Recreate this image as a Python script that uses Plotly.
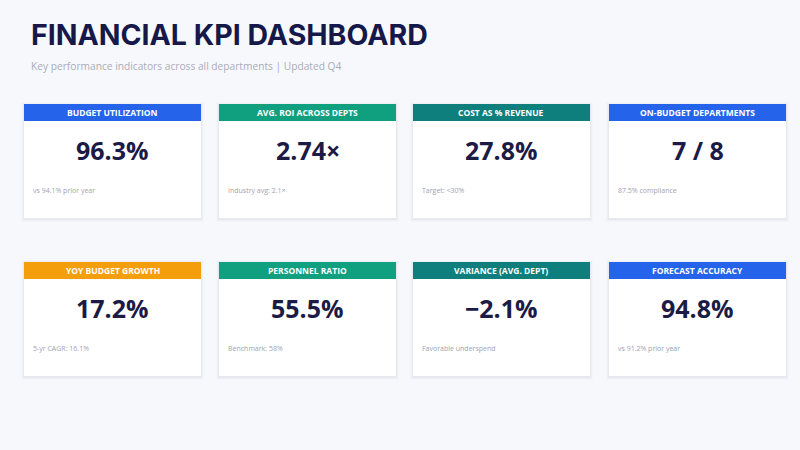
import plotly.graph_objects as go

# KPI card data
titles = ['BUDGET UTILIZATION', 'AVG. ROI ACROSS DEPTS', 'COST AS % REVENUE', 'ON-BUDGET DEPARTMENTS',
          'YOY BUDGET GROWTH', 'PERSONNEL RATIO', 'VARIANCE (AVG. DEPT)', 'FORECAST ACCURACY']
values = ['96.3%', '2.74×', '27.8%', '7 / 8',
          '17.2%', '55.5%', '−2.1%', '94.8%']
notes = ['vs 94.1% prior year', 'Industry avg: 2.1×', 'Target: <30%', '87.5% compliance',
         '5-yr CAGR: 16.1%', 'Benchmark: 58%', 'Favorable underspend', 'vs 91.2% prior year']
header_colors = ['#2563eb', '#10a07f', '#0e7f7c', '#2563eb',
                 '#f59e0b', '#10a07f', '#0e7f7c', '#2563eb']

W, H = 800, 450
card_w, card_h, head_h = 177, 114, 17
col_x = [24, 219, 413, 609]
row_y = [104, 262]

def px(x):
    return x / W

def py(y):
    return 1 - y / H

fig = go.Figure()
shapes = []
annotations = []

for i, t in enumerate(titles):
    x0 = col_x[i % 4]
    y0 = row_y[i // 4]
    # soft shadow
    for k, a in enumerate([0.035, 0.025, 0.015]):
        d = k + 1
        shapes.append(dict(type='rect', xref='paper', yref='paper',
                           x0=px(x0 - d), x1=px(x0 + card_w + d),
                           y0=py(y0 + card_h + d + 1), y1=py(y0 - d + 1),
                           fillcolor=f'rgba(40,50,90,{a})', line_width=0, layer='below'))
    shapes.append(dict(type='rect', xref='paper', yref='paper',
                       x0=px(x0), x1=px(x0 + card_w), y0=py(y0 + card_h), y1=py(y0),
                       fillcolor='white', line_width=0, layer='below'))
    shapes.append(dict(type='rect', xref='paper', yref='paper',
                       x0=px(x0), x1=px(x0 + card_w), y0=py(y0 + head_h), y1=py(y0),
                       fillcolor=header_colors[i], line_width=0, layer='below'))
    cx = px(x0 + card_w / 2)
    annotations.append(dict(x=cx, y=py(y0 + head_h / 2), xref='paper', yref='paper',
                            text=f'<b>{t}</b>', showarrow=False, xanchor='center', yanchor='middle',
                            font=dict(family='Open Sans', size=8.5, color='white')))
    annotations.append(dict(x=cx, y=py(y0 + 46), xref='paper', yref='paper',
                            text=f'<b>{values[i]}</b>', showarrow=False, xanchor='center', yanchor='middle',
                            font=dict(family='Open Sans', size=25, color='#1b1b46')))
    annotations.append(dict(x=px(x0 + 7), y=py(y0 + 86), xref='paper', yref='paper',
                            text=notes[i], showarrow=False, xanchor='left', yanchor='middle',
                            font=dict(family='Open Sans', size=7, color='#a0a3b1')))

annotations.append(dict(x=px(29), y=py(35), xref='paper', yref='paper',
                        text='FINANCIAL KPI DASHBOARD', showarrow=False, xanchor='left', yanchor='middle',
                        font=dict(family='Inter', size=28.5, color='#16184a', weight=700)))
annotations.append(dict(x=px(29), y=py(66), xref='paper', yref='paper',
                        text='Key performance indicators across all departments | Updated Q4',
                        showarrow=False, xanchor='left', yanchor='middle',
                        font=dict(family='Open Sans', size=10.2, color='#a9acb8')))

fig.update_layout(
    width=W, height=H,
    margin=dict(l=0, r=0, t=0, b=0),
    paper_bgcolor='#f7f8fc', plot_bgcolor='#f7f8fc',
    xaxis=dict(visible=False, range=[0, 1]),
    yaxis=dict(visible=False, range=[0, 1]),
    shapes=shapes, annotations=annotations,
    showlegend=False,
)

fig.write_html("out.html", config={'displayModeBar': False},
               post_script="document.body.style.margin='0';")
